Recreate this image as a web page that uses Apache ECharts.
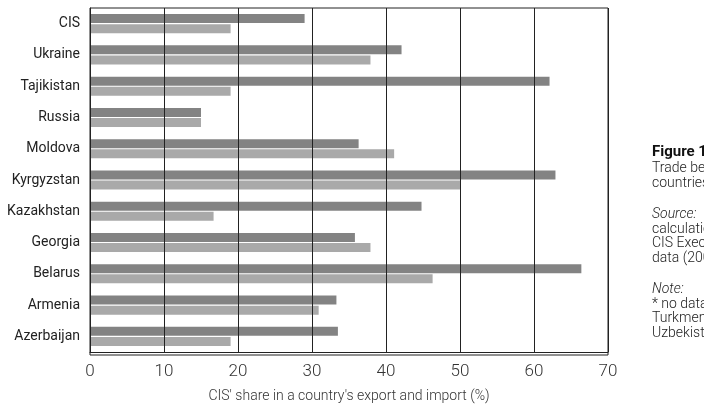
<!DOCTYPE html>
<html>
<head>
	<meta charset="utf-8">
	<title>CIS share in trade</title>
	<script src="https://cdn.jsdelivr.net/npm/echarts@6/dist/echarts.min.js"></script>
	<style>
		html, body { margin: 0; padding: 0; background: #fff; }
		#chart { width: 704px; height: 408px; }
	</style>
</head>
<body>
<div id="chart"></div>
<script>
	// countries, top to bottom
	var countries = ['CIS', 'Ukraine', 'Tajikistan', 'Russia', 'Moldova', 'Kyrgyzstan',
		'Kazakhstan', 'Georgia', 'Belarus', 'Armenia', 'Azerbaijan'];
	// dark bars (upper in each pair)
	var darkValues = [29.0, 42.1, 62.1, 15.0, 36.3, 62.9, 44.8, 35.8, 66.4, 33.3, 33.5];
	// light bars (lower in each pair)
	var lightValues = [19.0, 37.9, 19.0, 15.0, 41.1, 50.1, 16.7, 37.9, 46.3, 30.9, 19.0];
	var xTicks = [0, 10, 20, 30, 40, 50, 60, 70];

	var myChart = echarts.init(document.getElementById('chart'));
	var fontFam = 'Roboto, "DejaVu Sans", sans-serif';

	var option = {
		animation: false,
		grid: { left: 90, right: 96, top: 8, bottom: 53 },
		xAxis: {
			type: 'value',
			min: xTicks[0],
			max: xTicks[xTicks.length - 1],
			interval: 10,
			z: 10, //grid lines drawn over the bars
			axisLine: { show: true, lineStyle: { color: '#222', width: 1 } },
			axisTick: { show: false },
			splitLine: { show: true, lineStyle: { color: '#222', width: 1 } },
			axisLabel: { color: '#333', fontSize: 17, fontWeight: 300, fontFamily: fontFam, margin: 11 },
			name: "CIS' share in a country's export and import (%)",
			nameLocation: 'middle',
			nameGap: 37,
			nameTextStyle: { color: '#333', fontSize: 14, fontWeight: 300, fontFamily: fontFam }
		},
		yAxis: {
			type: 'category',
			data: countries,
			inverse: true,
			z: 10,
			axisLine: { show: true, lineStyle: { color: '#222', width: 1 } },
			axisTick: { show: false },
			splitLine: { show: false },
			axisLabel: { color: '#222', fontSize: 14, fontFamily: fontFam, margin: 10 }
		},
		series: [
			{
				name: 'dark',
				type: 'bar',
				data: darkValues,
				barWidth: 9,
				barGap: '12%',
				itemStyle: { color: '#838383' }
			},
			{
				name: 'light',
				type: 'bar',
				data: lightValues,
				barWidth: 9,
				barGap: '12%',
				itemStyle: { color: '#a9a9a9' }
			}
		],
		graphic: [
			// box top and right edge
			{ type: 'rect', shape: { x: 90, y: 8, width: 518, height: 347 }, style: { fill: 'none', stroke: '#222', lineWidth: 1 }, z: 20 },
			{ type: 'text', left: 652, top: 145, style: { text: 'Figure 1', font: 'bold 15px ' + fontFam, fill: '#111' } },
			{ type: 'text', left: 652, top: 161, style: { text: 'Trade between CIS\ncountries', font: '300 14px ' + fontFam, fill: '#222', lineHeight: 15 } },
			{ type: 'text', left: 652, top: 207, style: { text: 'Source:', font: 'italic 300 14px ' + fontFam, fill: '#222' } },
			{ type: 'text', left: 652, top: 222, style: { text: 'calculations based on\nCIS Executive Committee\ndata (2009)', font: '300 14px ' + fontFam, fill: '#222', lineHeight: 14.5 } },
			{ type: 'text', left: 652, top: 282, style: { text: 'Note:', font: 'italic 300 14px ' + fontFam, fill: '#222' } },
			{ type: 'text', left: 652, top: 297, style: { text: '* no data for\nTurkmenistan and\nUzbekistan', font: '300 14px ' + fontFam, fill: '#222', lineHeight: 14.5 } }
		]
	};
	myChart.setOption(option);
</script>
</body>
</html>
